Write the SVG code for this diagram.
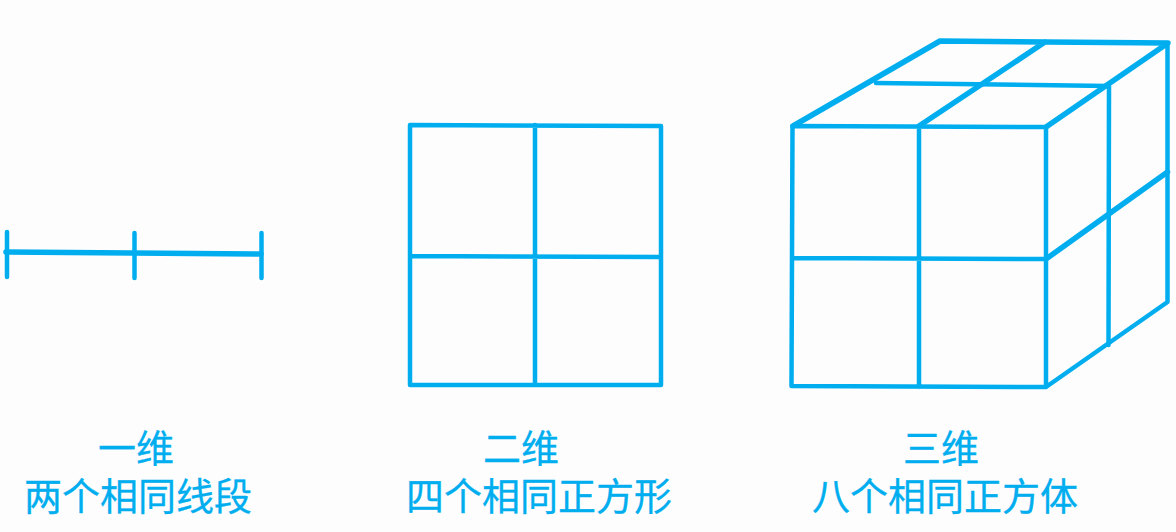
<svg xmlns="http://www.w3.org/2000/svg" width="1176" height="532" viewBox="0 0 1176 532">
<style>
.l{fill:none;stroke:#00aeef;stroke-width:4.500;stroke-linecap:round;stroke-linejoin:round}
.h{stroke-width:5.500}
.t{fill:#00aeef;stroke:#00aeef;stroke-width:.3;font-family:"Noto Sans CJK SC",sans-serif;font-size:38px;text-anchor:middle}
</style>
<rect width="1176" height="532" fill="#fdfdfe"/>
<g id="connectors">
<g id="line"><path class="l h" d="M6 252L261 254"/><path class="l" d="M7 232V277M134.500 233V278M261.500 233V278"/></g>
<g id="square"><path class="l" d="M410 125L661 126V385L410 385ZM535 125V385M410 256L661 257"/></g>
<g id="cube"><path class="l" d="M792.500 126L1046 127V387L791.500 386ZM919 126V387M793 258L1046 259M1046 387L1167.500 302V43"/><path class="l h" d="M793 126L940 41L1168 43L1046 127M919 126L1045 42M1046 259L1167.500 172"/><path class="l" d="M876 83L1109 86L1108.500 345"/></g>
</g>
<text class="t" x="136" y="462">一维</text>
<text class="t" x="138" y="510">两个相同线段</text>
<text class="t" x="521" y="462">二维</text>
<text class="t" x="539" y="510">四个相同正方形</text>
<text class="t" x="941" y="462">三维</text>
<text class="t" x="945" y="510">八个相同正方体</text>
</svg>
